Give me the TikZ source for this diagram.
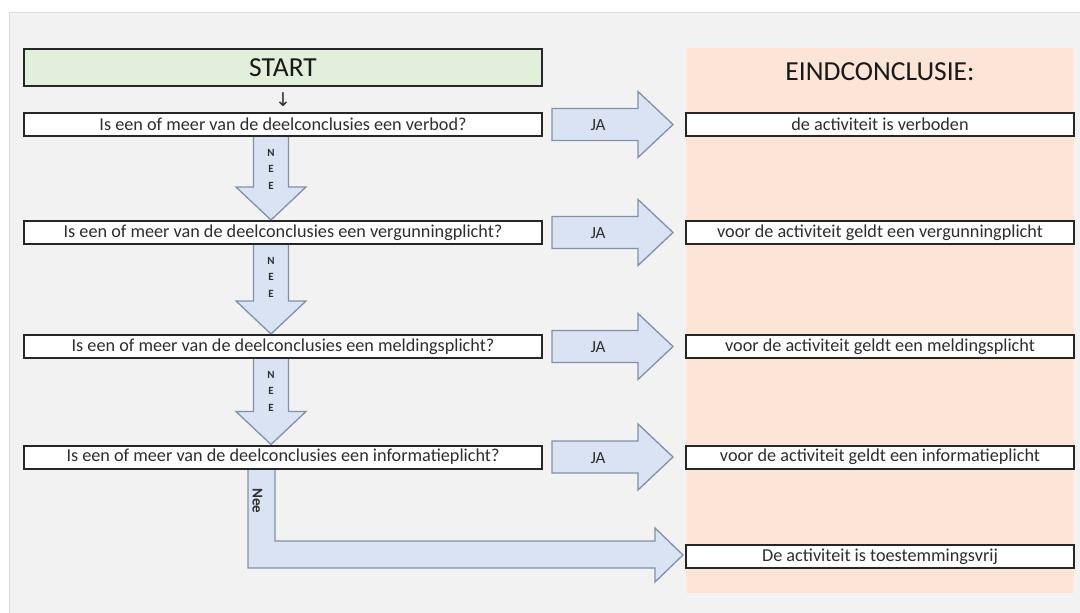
\documentclass[tikz,border=0pt]{standalone}
\usepackage{fontspec}
\setmainfont{Carlito}
\newfontfamily\djv{DejaVu Sans}
\definecolor{bg}{HTML}{F2F2F2}
\definecolor{bgline}{HTML}{DCDCDC}
\definecolor{startfill}{HTML}{E2EFDA}
\definecolor{panel}{HTML}{FCE4D6}
\definecolor{arrowfill}{HTML}{DAE3F3}
\definecolor{arrowline}{HTML}{8091AA}
\definecolor{boxline}{HTML}{262626}
\definecolor{txt}{HTML}{2E2E2E}
\begin{document}
\begin{tikzpicture}[x=1pt,y=-1pt,
  qbox/.style={draw=boxline, line width=2pt, fill=white, minimum width=518pt, minimum height=23pt, inner sep=0pt, font=\fontsize{18.2}{18}\selectfont, text=txt},
  cbox/.style={draw=boxline, line width=2pt, fill=white, minimum width=388pt, minimum height=23pt, inner sep=0pt, font=\fontsize{18.2}{18}\selectfont, text=txt},
  startbox/.style={draw=boxline, line width=2pt, fill=startfill, minimum width=518pt, minimum height=37pt, inner sep=0pt, font=\fontsize{27.5}{27}\selectfont, text=black!90},
  blockarrow/.style={draw=arrowline, line width=1.3pt, fill=arrowfill, line join=miter},
  jalabel/.style={font=\fontsize{17}{17}\selectfont, text=txt},
  neeletter/.style={font=\bfseries\fontsize{11}{11}\selectfont, text=txt, inner sep=0pt}
]
\useasboundingbox (0,0) rectangle (1080,613);
\fill[white] (0,0) rectangle (1080,613);
\draw[bgline, fill=bg, line width=1pt] (9,12) rectangle (1082,615);
\fill[panel] (686,48) rectangle (1074,593);

% JA arrows
\foreach \cy in {124.5,232.5,346.5,457} {
  \draw[blockarrow] (552,\cy-16) -- (638,\cy-16) -- (638,\cy-33) -- (673,\cy) -- (638,\cy+33) -- (638,\cy+16) -- (552,\cy+16) -- cycle;
  \node[jalabel] at (598,\cy+1) {JA};
}

% NEE down arrows
\foreach \top/\tip in {137/220, 245/334, 359/444.5} {
  \draw[blockarrow] (253.5,\top) -- (253.5,\tip-33) -- (236,\tip-33) -- (271,\tip) -- (306,\tip-33) -- (288.5,\tip-33) -- (288.5,\top);
  \node[neeletter] at (271,\top+16) {N};
  \node[neeletter] at (271,\top+32) {E};
  \node[neeletter] at (271,\top+49) {E};
}

% L-shaped Nee arrow
\draw[blockarrow] (248,469) -- (248,568) -- (655,568) -- (655,582) -- (683,555) -- (655,528) -- (655,541) -- (275,541) -- (275,469);
\node[font=\bfseries\fontsize{15}{15}\selectfont, text=txt, rotate=-90, inner sep=0pt] (neelabel) at (257.5,501) {Nee};

% boxes
\node[startbox] (start) at (283,67.5) {START};
\node[font=\djv\fontsize{19}{19}\selectfont, text=txt, inner sep=0pt] (down) at (283,99.5) {↓};
\node[qbox] (q1) at (283,124.5) {Is een of meer van de deelconclusies een verbod?};
\node[qbox] (q2) at (283,232.5) {Is een of meer van de deelconclusies een vergunningplicht?};
\node[qbox] (q3) at (283,346.5) {Is een of meer van de deelconclusies een meldingsplicht?};
\node[qbox] (q4) at (283,457) {Is een of meer van de deelconclusies een informatieplicht?};

\node[font=\fontsize{27.5}{27}\selectfont, text=black!90, inner sep=0pt] (eind) at (880,72) {EINDCONCLUSIE:};
\node[cbox] (c1) at (880,124.5) {de activiteit is verboden};
\node[cbox] (c2) at (880,232.5) {voor de activiteit geldt een vergunningplicht};
\node[cbox] (c3) at (880,346.5) {voor de activiteit geldt een meldingsplicht};
\node[cbox] (c4) at (880,457) {voor de activiteit geldt een informatieplicht};
\node[cbox] (c5) at (880,556.5) {De activiteit is toestemmingsvrij};
\end{tikzpicture}
\end{document}
